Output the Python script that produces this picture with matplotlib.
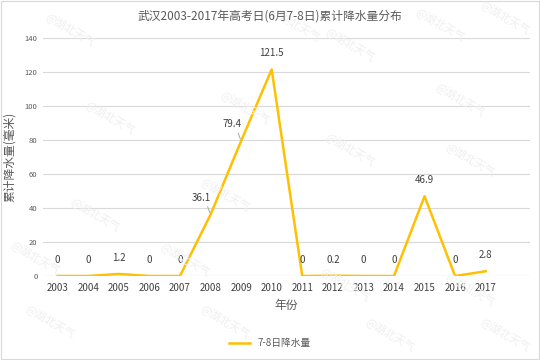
import matplotlib.pyplot as plt
import numpy as np

plt.rcParams['font.family'] = ['Noto Sans CJK SC', 'DejaVu Sans']

# 数据
years = ['2003', '2004', '2005', '2006', '2007', '2008', '2009', '2010',
         '2011', '2012', '2013', '2014', '2015', '2016', '2017']
rain = [0, 0, 1.2, 0, 0, 36.1, 79.4, 121.5, 0, 0.2, 0, 0, 46.9, 0, 2.8]
labels = ['0', '0', '1.2', '0', '0', '36.1', '79.4', '121.5',
          '0', '0.2', '0', '0', '46.9', '0', '2.8']

fig = plt.figure(figsize=(5.4, 3.6), dpi=100)
ax = fig.add_axes([43/540, 1-276/360, (530-43)/540, (276-38)/360])

x = np.arange(len(years))
ax.plot(x, rain, color='#FFC000', lw=1.8, label='7-8日降水量', zorder=3)

ax.set_xlim(-0.48, 15.45)
ax.set_ylim(0, 140)
ax.set_yticks(range(0, 141, 20))
ax.set_xticks(x)
ax.set_xticklabels(years)
ax.tick_params(axis='y', labelsize=5.5, colors='#595959', length=0, pad=4)
ax.tick_params(axis='x', labelsize=7, colors='#404040', length=0, pad=5)
ax.grid(axis='y', color='#d9d9d9', lw=0.8)
ax.set_axisbelow(True)
for s in ax.spines.values():
    s.set_visible(False)
ax.axhline(0, color='#d9d9d9', lw=0.8, zorder=1)

# 数据标签
for i, (v, t) in enumerate(zip(rain, labels)):
    if t in ('36.1', '79.4'):
        ax.annotate(t, xy=(i, v), xytext=(i - 0.3, v + 10), fontsize=7,
                    color='#404040', ha='center', va='center',
                    arrowprops=dict(arrowstyle='-', color='#a6a6a6', lw=0.7,
                                    relpos=(0.75, 0), shrinkA=1, shrinkB=1.5))
    else:
        ax.annotate(t, xy=(i, v), xytext=(0, 8), textcoords='offset points',
                    fontsize=7, color='#404040', ha='center', va='bottom')

ax.set_xlabel('年份', fontsize=8.5, color='#595959', labelpad=4)
ax.set_ylabel('累计降水量(毫米)', fontsize=8.5, color='#595959', labelpad=6)
fig.text(0.5, 1-16/360, '武汉2003-2017年高考日(6月7-8日)累计降水量分布',
         ha='center', va='center', fontsize=8.5, color='#595959')

leg = fig.legend(loc='center', bbox_to_anchor=(0.5, 1-343/360), frameon=False,
                 fontsize=7, handlelength=2.2)
for t in leg.get_texts():
    t.set_color('#595959')

# 水印
marks = [(70, 30), (295, 25), (440, 25), (505, 18), (110, 118), (245, 108),
         (350, 45), (460, 100), (95, 215), (225, 195), (350, 150), (470, 160),
         (35, 258), (185, 260), (345, 285), (470, 290), (50, 322), (225, 322),
         (390, 335), (505, 335)]
for mx, my in marks:
    fig.text(mx/540, 1-my/360, '@湖北天气', fontsize=8, color='#efefef',
             rotation=-30, ha='center', va='center', zorder=0)

fig.patches.append(plt.Rectangle((0.002, 0.002), 0.996, 0.995, transform=fig.transFigure,
                                 fill=False, ec='#d9d9d9', lw=0.8))

fig.savefig('out.png', dpi=100)
